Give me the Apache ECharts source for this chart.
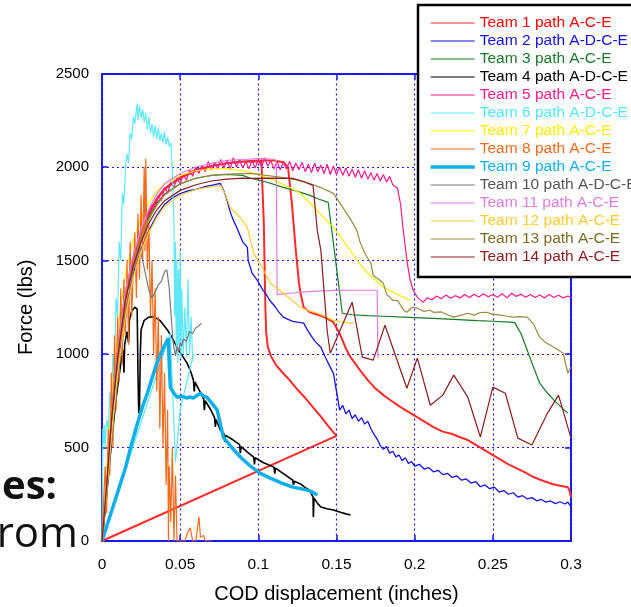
<!DOCTYPE html>
<html><head><meta charset="utf-8">
<script src="https://cdn.jsdelivr.net/npm/echarts@6/dist/echarts.min.js"></script>
<style>html,body{margin:0;padding:0;background:#fff}#c{width:631px;height:607px}</style>
</head><body><div id="c"></div>
<script>
const names = ['Team 1 path A-C-E','Team 2 path A-D-C-E','Team 3 path A-C-E','Team 4 path A-D-C-E','Team 5 path A-C-E','Team 6 path A-D-C-E','Team 7 path A-C-E','Team 8 path A-C-E','Team 9 path A-C-E','Team 10 path A-D-C-E','Team 11 path A-C-E','Team 12 path A-C-E','Team 13 path A-C-E','Team 14 path A-C-E'];
const xTicks = [0, 0.05, 0.1, 0.15, 0.2, 0.25, 0.3];
const yTicks = [0, 500, 1000, 1500, 2000, 2500];

const team1 = [[0,0],[0.003,320],[0.006,680],[0.01,1020],[0.015,1330],[0.02,1510],[0.025,1650],[0.03,1750],[0.035,1830],[0.04,1885],[0.05,1945],[0.06,1985],[0.07,2005],[0.08,2020],[0.09,2028],[0.1,2030],[0.102,2025],[0.1035,1700],[0.1045,1250],[0.105,1120],[0.106,1040],[0.108,990],[0.111,945],[0.115,905],[0.12,860],[0.125,810],[0.13,765],[0.135,715],[0.14,665],[0.145,612],[0.15,562],[0.1505,555],
 [0,0],[0.003,300],[0.006,650],[0.01,1000],[0.015,1320],[0.02,1500],[0.025,1640],[0.03,1745],[0.035,1825],[0.04,1880],[0.05,1940],[0.06,1980],[0.07,2005],[0.08,2020],[0.09,2030],[0.1,2035],[0.11,2035],[0.116,2025],[0.119,2000],[0.1215,1800],[0.124,1550],[0.126,1380],[0.127,1325],[0.129,1250],[0.133,1223],[0.138,1210],[0.143,1195],[0.148,1170],[0.152,1110],[0.156,1030],[0.159,983],[0.164,925],[0.17,860],[0.175,815],[0.18,780],[0.185,750],[0.191,716],[0.196,690],[0.2,670],[0.206,640],[0.212,609],[0.218,585],[0.224,572],[0.229,555],[0.234,540],[0.24,510],[0.245,485],[0.25,459],[0.255,435],[0.26,410],[0.265,390],[0.27,370],[0.276,342],[0.282,322],[0.288,305],[0.293,295],[0.298,288],[0.299,270],[0.3,235]];
const team2 = [[0,0],[0.003,280],[0.006,600],[0.01,930],[0.015,1230],[0.02,1430],[0.025,1560],[0.03,1660],[0.035,1740],[0.04,1800],[0.045,1835],[0.05,1858],[0.055,1872],[0.06,1880],[0.065,1893],[0.07,1902],[0.0757,1912],[0.078,1870],[0.08,1822],[0.082,1760],[0.084,1715],[0.086,1680],[0.088,1640],[0.09,1600],[0.093,1570],[0.0935,1500],[0.095,1460],[0.096,1432],[0.098,1410],[0.1,1385],[0.101,1378],[0.103,1340],[0.105,1320],[0.107,1290],[0.109,1270],[0.111,1250],[0.113,1225],[0.116,1197],[0.119,1185],[0.122,1175],[0.125,1170],[0.129,1165],[0.132,1120],[0.136,1070],[0.14,1036],[0.143,980],[0.146,930],[0.148,897],[0.15,800],[0.152,700],[0.154,725],[0.156,680],[0.158,700],[0.16,655],[0.162,675],[0.164,640],[0.166,660],[0.168,625],[0.17,640],[0.172,600],[0.174,570],[0.176,545],[0.178,510],[0.18,490],[0.182,505],[0.184,470],[0.186,480],[0.188,450],[0.19,460],[0.192,430],[0.194,445],[0.196,415],[0.198,425],[0.2,400],[0.203,410],[0.206,385],[0.209,392],[0.212,370],[0.215,378],[0.218,355],[0.221,362],[0.224,340],[0.227,348],[0.23,325],[0.233,332],[0.236,310],[0.239,318],[0.242,290],[0.245,300],[0.248,280],[0.251,288],[0.254,262],[0.257,270],[0.26,250],[0.263,258],[0.266,235],[0.269,242],[0.272,225],[0.275,232],[0.278,215],[0.281,222],[0.284,208],[0.287,214],[0.29,200],[0.293,210],[0.296,198],[0.298,208],[0.3,182]];
const team3 = [[0,0],[0.003,300],[0.006,640],[0.01,990],[0.015,1300],[0.02,1490],[0.025,1630],[0.03,1730],[0.035,1805],[0.04,1855],[0.05,1910],[0.06,1940],[0.07,1955],[0.08,1960],[0.09,1955],[0.095,1940],[0.105,1920],[0.116,1891],[0.125,1870],[0.133,1848],[0.138,1830],[0.1447,1811],[0.1537,1218],[0.16,1210],[0.17,1205],[0.18,1202],[0.19,1198],[0.2,1195],[0.212,1191],[0.225,1185],[0.24,1178],[0.25,1175],[0.261,1170],[0.264,1168],[0.268,1110],[0.272,1020],[0.276,930],[0.28,844],[0.285,790],[0.29,745],[0.295,705],[0.298,684]];
const team4 = [[0,0],[0.003,250],[0.006,520],[0.009,760],[0.012,950],[0.0135,1020],[0.014,900],[0.0145,1050],[0.016,1120],[0.017,1060],[0.0175,1180],[0.019,1230],[0.021,1250],[0.0225,1240],[0.023,900],[0.0235,684],[0.024,720],[0.0245,1000],[0.025,1130],[0.027,1180],[0.03,1197],[0.033,1200],[0.037,1180],[0.042,1127],[0.045,1085],[0.048,1036],[0.051,995],[0.0545,950],[0.057,900],[0.0585,860],[0.059,800],[0.0595,850],[0.062,810],[0.065,760],[0.0655,700],[0.066,750],[0.069,710],[0.072,660],[0.0725,610],[0.073,650],[0.0757,593],[0.078,575],[0.0785,530],[0.079,565],[0.084,540],[0.088,515],[0.0885,470],[0.089,505],[0.093,475],[0.097,449],[0.0975,410],[0.098,445],[0.103,420],[0.11,395],[0.1105,360],[0.111,390],[0.116,360],[0.122,326],[0.1225,300],[0.123,320],[0.127,305],[0.13,285],[0.133,272],[0.134,250],[0.135,235],[0.1352,128],[0.1356,230],[0.138,200],[0.14,182],[0.144,172],[0.148,166],[0.153,152],[0.156,145],[0.159,139]];
const team5 = [[0,0],[0.003,310],[0.006,670],[0.01,1010],[0.015,1320],[0.02,1500],[0.025,1640],[0.028,1700],[0.03,1760],[0.032,1800],[0.034,1780],[0.036,1850],[0.038,1820],[0.04,1890],[0.042,1860],[0.044,1920],[0.046,1890],[0.048,1940],[0.05,1910],[0.052,1960],[0.054,1930],[0.056,1985],[0.058,1950],[0.06,2000],[0.062,1965],[0.064,2010],[0.066,1975],[0.068,2030],[0.07,1985],[0.072,2025],[0.074,1990],[0.076,2040],[0.078,1995],[0.08,2035],[0.082,1990],[0.084,2050],[0.086,2000],[0.088,2040],[0.09,1995],[0.092,2030],[0.094,1990],[0.096,2035],[0.098,1995],[0.1,2040],[0.102,2000],[0.104,2050],[0.106,2005],[0.108,2035],[0.11,1990],[0.112,2030],[0.114,1985],[0.116,2025],[0.118,1990],[0.12,2030],[0.122,1980],[0.124,2020],[0.126,1985],[0.128,2025],[0.13,1975],[0.132,2015],[0.134,1970],[0.136,2020],[0.138,1975],[0.14,2010],[0.142,1965],[0.144,2015],[0.146,1960],[0.148,2005],[0.15,1960],[0.152,2000],[0.154,1955],[0.156,1995],[0.158,1950],[0.16,1990],[0.162,1945],[0.164,1985],[0.166,1940],[0.168,1980],[0.17,1935],[0.172,1970],[0.174,1930],[0.176,1965],[0.178,1925],[0.18,1960],[0.182,1920],[0.184,1950],[0.186,1905],[0.189,1886],[0.191,1800],[0.1927,1661],[0.1953,1485],[0.197,1400],[0.199,1341],[0.202,1300],[0.2055,1277],[0.208,1300],[0.211,1290],[0.214,1310],[0.217,1295],[0.22,1315],[0.223,1298],[0.226,1312],[0.229,1300],[0.232,1318],[0.235,1302],[0.238,1320],[0.241,1305],[0.244,1322],[0.247,1306],[0.25,1318],[0.253,1304],[0.256,1322],[0.259,1300],[0.262,1325],[0.265,1308],[0.268,1320],[0.271,1304],[0.274,1318],[0.277,1302],[0.28,1316],[0.283,1300],[0.286,1318],[0.289,1302],[0.292,1314],[0.295,1300],[0.298,1310],[0.3,1303]];
const team6 = [[0,0],[0.0005,600],[0.001,520],[0.0015,620],[0.002,500],[0.003,650],[0.004,600],[0.005,800],[0.006,700],[0.007,1000],[0.008,900],[0.009,1300],[0.01,1200],[0.011,1600],[0.012,1500],[0.013,1860],[0.014,1800],[0.015,2000],[0.016,2070],[0.017,2020],[0.018,2180],[0.019,2150],[0.02,2270],[0.021,2230],[0.0225,2340],[0.023,2250],[0.024,2330],[0.025,2260],[0.026,2310],[0.027,2240],[0.028,2290],[0.029,2200],[0.03,2270],[0.031,2180],[0.032,2230],[0.033,2160],[0.034,2220],[0.035,2150],[0.036,2210],[0.037,2140],[0.038,2180],[0.039,2130],[0.04,2190],[0.041,2120],[0.042,2160],[0.043,2110],[0.044,2130],[0.045,1980],[0.046,1700],[0.0465,1200],[0.047,1600],[0.0475,1000],[0.048,1500],[0.0485,950],[0.049,1450],[0.0495,1050],[0.05,1550],[0.0505,980],[0.051,1350],[0.052,1000],[0.053,1250],[0.054,980],[0.055,1400],[0.056,1000],[0.057,1200],[0.058,960],[0.0585,1000],[0.05,700],[0.047,420],[0.0437,1111],[0,0]];
const team7 = [[0,0],[0.003,380],[0.006,760],[0.01,1120],[0.015,1430],[0.02,1610],[0.025,1730],[0.03,1810],[0.035,1870],[0.04,1910],[0.05,1955],[0.06,1980],[0.07,1990],[0.08,1990],[0.09,1980],[0.095,1971],[0.1,1960],[0.11,1930],[0.12,1890],[0.127,1859],[0.135,1790],[0.14,1745],[0.148,1677],[0.155,1600],[0.16,1540],[0.165,1480],[0.17,1432],[0.18,1357],[0.19,1315],[0.197,1287]];
const team8 = [[0,0],[0.002,400],[0.003,150],[0.004,600],[0.005,350],[0.006,900],[0.007,500],[0.008,1100],[0.009,700],[0.01,1200],[0.011,850],[0.012,1350],[0.013,950],[0.014,1400],[0.015,1100],[0.016,1500],[0.017,1050],[0.018,1600],[0.019,1200],[0.02,1450],[0.021,1650],[0.022,1300],[0.023,1750],[0.024,1400],[0.025,1850],[0.026,1500],[0.027,2000],[0.0275,1550],[0.028,2045],[0.029,1450],[0.03,1700],[0.031,1200],[0.032,1500],[0.033,1000],[0.034,1350],[0.035,800],[0.036,1200],[0.037,600],[0.038,1100],[0.039,500],[0.04,900],[0.041,300],[0.042,700],[0.0425,0],[0.043,400],[0.044,100],[0.045,500],[0.046,0],[0.047,350],[0.048,0],[0.05,0],[0.053,0],[0.055,50],[0.0565,70],[0.058,0],[0.06,0],[0.062,130],[0.063,20],[0.065,30],[0.066,0],[0.07,0]];
const team9 = [[0,0],[0.005,130],[0.01,260],[0.015,390],[0.018,490],[0.022,610],[0.026,720],[0.029,790],[0.032,870],[0.035,950],[0.038,1010],[0.0415,1070],[0.0425,1084],[0.043,950],[0.0437,822],[0.046,790],[0.048,769],[0.051,775],[0.054,765],[0.0565,770],[0.0585,764],[0.061,780],[0.063,790],[0.065,775],[0.067,769],[0.07,740],[0.0737,700],[0.0776,556],[0.083,500],[0.0885,449],[0.095,400],[0.101,363],[0.108,335],[0.115,310],[0.122,288],[0.127,280],[0.133,268],[0.1377,246]];
const team10 = [[0,0],[0.004,350],[0.008,700],[0.012,1000],[0.016,1250],[0.02,1450],[0.024,1570],[0.026,1500],[0.028,1420],[0.03,1340],[0.032,1300],[0.034,1330],[0.036,1370],[0.038,1390],[0.04,1440],[0.0415,1450],[0.043,1350],[0.044,1230],[0.0455,1060],[0.047,990],[0.048,1040],[0.049,1010],[0.05,1060],[0.051,1040],[0.052,1080],[0.054,1070],[0.056,1120],[0.058,1110],[0.06,1140],[0.062,1150],[0.0635,1165]];
const team11 = [[0,0],[0.003,310],[0.006,660],[0.01,1010],[0.015,1340],[0.02,1530],[0.025,1670],[0.03,1775],[0.035,1855],[0.04,1910],[0.05,1965],[0.06,2000],[0.07,2020],[0.08,2035],[0.09,2040],[0.1,2045],[0.105,2045],[0.11,2040],[0.1115,2035],[0.112,1318],[0.12,1325],[0.13,1332],[0.14,1338],[0.15,1340],[0.16,1341],[0.17,1341],[0.176,1341],[0.1765,978]];
const team12 = [[0,0],[0.003,260],[0.006,560],[0.01,900],[0.015,1200],[0.02,1410],[0.025,1550],[0.03,1650],[0.035,1730],[0.04,1790],[0.05,1850],[0.06,1880],[0.07,1895],[0.076,1900],[0.079,1850],[0.082,1784],[0.0885,1730],[0.093,1677],[0.095,1608],[0.097,1538],[0.101,1485],[0.1077,1378],[0.116,1325],[0.121,1290],[0.127,1250],[0.132,1232],[0.138,1218],[0.144,1196],[0.148,1180],[0.153,1172],[0.159,1165],[0.161,1165]];
const team13 = [[0,0],[0.003,290],[0.006,630],[0.01,980],[0.015,1290],[0.02,1480],[0.025,1620],[0.03,1720],[0.035,1795],[0.04,1850],[0.05,1910],[0.06,1940],[0.07,1955],[0.08,1962],[0.09,1965],[0.095,1966],[0.105,1955],[0.116,1944],[0.125,1930],[0.133,1912],[0.14,1890],[0.148,1859],[0.154,1784],[0.159,1720],[0.163,1661],[0.165,1600],[0.168,1540],[0.172,1485],[0.1735,1420],[0.177,1400],[0.18,1378],[0.182,1320],[0.186,1287],[0.189,1287],[0.193,1234],[0.195,1223],[0.1985,1250],[0.2017,1245],[0.206,1228],[0.21,1234],[0.212,1223],[0.217,1225],[0.221,1210],[0.225,1197],[0.229,1205],[0.234,1218],[0.238,1208],[0.242,1222],[0.246,1223],[0.25,1212],[0.255,1208],[0.259,1202],[0.263,1197],[0.267,1200],[0.272,1197],[0.276,1160],[0.28,1090],[0.284,1060],[0.289,1036],[0.292,1020],[0.295,1004],[0.298,897],[0.3,930]];
const team14 = [[0,0],[0.003,300],[0.006,640],[0.01,980],[0.015,1290],[0.02,1470],[0.025,1600],[0.03,1700],[0.035,1770],[0.04,1820],[0.05,1875],[0.06,1905],[0.07,1925],[0.08,1935],[0.09,1940],[0.095,1939],[0.11,1940],[0.122,1939],[0.128,1925],[0.135,1902],[0.1377,1661],[0.14,1554],[0.144,1127],[0.146,1004],[0.16,1277],[0.1665,983],[0.1735,967],[0.181,1154],[0.195,817],[0.2017,978],[0.21,726],[0.218,780],[0.225,887],[0.234,769],[0.242,556],[0.25,823],[0.258,790],[0.266,550],[0.275,513],[0.285,684],[0.292,780],[0.3,550]];

const teamData = [team1,team2,team3,team4,team5,team6,team7,team8,team9,team10,team11,team12,team13,team14];
const lineColors = ['#ff2a2a','#1414dc','#167a26','#000000','#ff1a8c','#5ee8fa','#ffee00','#f26b1d','#10aeea','#7a7a7a','#e07de0','#ffcc33','#9a8a3a','#8b1c1c'];
const textColors = ['#ff0000','#1010dd','#1a7a2a','#000000','#ff1a8c','#55e6f8','#ffee00','#f26b1d','#10aeea','#555555','#e07de0','#ffcc33','#7a6a22','#8b1c1c'];
const lineWidths = [2,1.3,1.2,1.6,1.2,1.2,1.2,1.2,3.5,1.2,1.2,1.2,1.2,1.2];

const chart = echarts.init(document.getElementById('c'), null, {renderer:'canvas'});
const FF = '"Liberation Sans", Arial, sans-serif';
const blue = '#1818f0';
function axisCommon(extra){
  return Object.assign({
    type:'value',
    axisLine:{show:true, onZero:false, lineStyle:{color:blue, width:2, type:[3,1]}},
    axisTick:{show:true, inside:true, length:6, lineStyle:{color:blue, width:1.5}},
    splitLine:{show:false},
  }, extra);
}
const option = {
  animation:false,
  backgroundColor:'#fff',
  textStyle:{fontFamily:FF},
  grid:{left:102, right:60, top:73.5, bottom:66, outerBoundsMode:'none', containLabel:false},
  graphic:[
    {type:'text', z:0, style:{text:'es:', x:57, y:488, textAlign:'right', textVerticalAlign:'middle', font:'bold 40px "Open Sans"', fill:'#111'}},
    {type:'text', z:0, style:{text:'rom', x:78, y:535, textAlign:'right', textVerticalAlign:'middle', font:'42px "Open Sans"', fill:'#111'}}
  ],
  legend:{
    orient:'vertical', left:418, top:5, padding:[10,20,12,11],
    itemWidth:44, itemHeight:16, itemGap:2, selectedMode:false,
    borderColor:'#000', borderWidth:2.5, backgroundColor:'#fff',
    itemStyle:{opacity:0},
    lineStyle:{width:1.2},
    textStyle:{fontSize:15.5, fontFamily:FF},
    data:names.map((n,i)=>({name:n, textStyle:{color:textColors[i]}, lineStyle:{width: i===8 ? 3.5 : 1.2}}))
  },
  xAxis:[
    axisCommon({min:xTicks[0], max:xTicks[xTicks.length-1], interval:0.05, position:'bottom',
      axisLabel:{color:'#000', fontSize:15.5, margin:16, fontFamily:FF, formatter:v=>String(+v.toFixed(2))},
      splitLine:{show:true, lineStyle:{color:blue, width:1.2, type:[2,3]}},
      name:'COD displacement (inches)', nameLocation:'middle', nameGap:43,
      nameTextStyle:{color:'#000', fontSize:20, fontFamily:FF}}),
    axisCommon({min:xTicks[0], max:xTicks[xTicks.length-1], interval:0.05, position:'top', axisLabel:{show:false}})
  ],
  yAxis:[
    axisCommon({min:yTicks[0], max:yTicks[yTicks.length-1], interval:500, position:'left',
      axisLabel:{color:'#000', fontSize:15, margin:13, fontFamily:FF, formatter:v=>String(v)},
      splitLine:{show:true, lineStyle:{color:blue, width:1.2, type:[2,3]}},
      name:'Force (lbs)', nameLocation:'middle', nameGap:66,
      nameTextStyle:{color:'#000', fontSize:20, fontFamily:FF}}),
    axisCommon({min:yTicks[0], max:yTicks[yTicks.length-1], interval:500, position:'right', axisLabel:{show:false}})
  ],
  series: names.map((n,i)=>({
    name:n, type:'line', data:teamData[i], symbol:'none', showSymbol:false,
    xAxisIndex:0, yAxisIndex:0, clip:true,
    lineStyle:{color:lineColors[i], width:lineWidths[i]}, itemStyle:{color:lineColors[i]},
    emphasis:{disabled:true}
  }))
};
chart.setOption(option);
</script></body></html>
